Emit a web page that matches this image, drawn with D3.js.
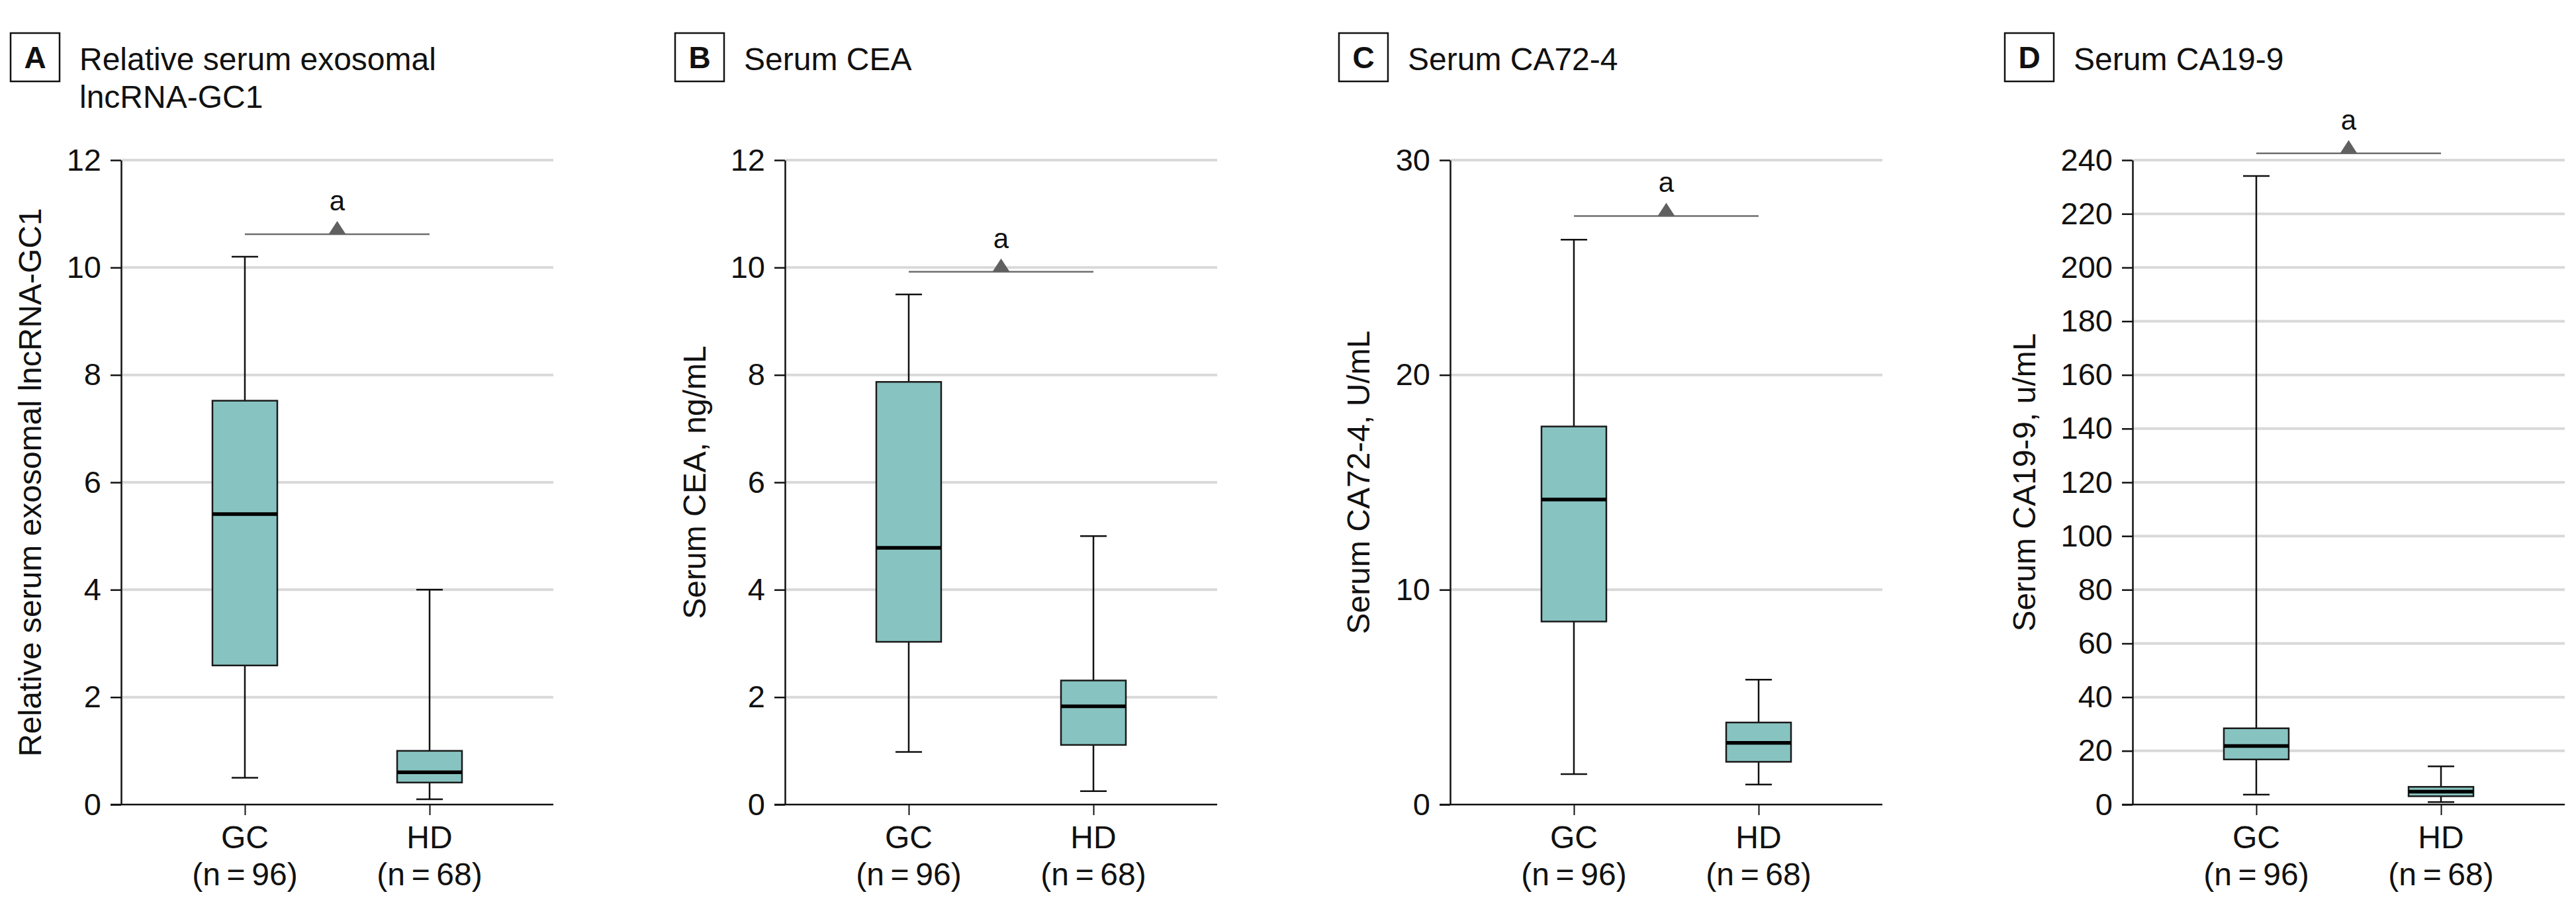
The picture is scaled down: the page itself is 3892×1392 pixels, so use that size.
<!DOCTYPE html>
<html>
<head>
<meta charset="utf-8">
<script src="https://cdn.jsdelivr.net/npm/d3@7"></script>
<style>
  html, body { margin: 0; padding: 0; background: #fff; }
  svg text { font-family: "Liberation Sans", Arial, sans-serif; fill: #111; }
</style>
</head>
<body>
<svg id="chart"></svg>
<script>
// groups on the x axis
const categories = ["GC", "HD"];
const groupSizes = [96, 68];

// one entry per panel
const panelLetters = ["A", "B", "C", "D"];
const panelTitles = [["Relative serum exosomal", "lncRNA-GC1"], ["Serum CEA"], ["Serum CA72-4"], ["Serum CA19-9"]];
const yTitles = ["Relative serum exosomal lncRNA-GC1", "Serum CEA, ng/mL", "Serum CA72-4, U/mL", "Serum CA19-9, u/mL"];
const yMax = [12, 12, 30, 240];
const yTickValues = [
    [0, 2, 4, 6, 8, 10, 12],
    [0, 2, 4, 6, 8, 10, 12],
    [0, 10, 20, 30],
    [0, 20, 40, 60, 80, 100, 120, 140, 160, 180, 200, 220, 240]
];

// box plot statistics, [GC, HD] per panel
const whiskerLow  = [[0.5, 0.1],  [0.98, 0.25], [1.42, 0.93], [3.7, 0.9]];
const q1          = [[2.59, 0.41], [3.03, 1.11], [8.52, 1.99], [16.8, 3.1]];
const median      = [[5.41, 0.6],  [4.78, 1.83], [14.2, 2.87], [21.8, 4.8]];
const q3          = [[7.52, 1.0],  [7.87, 2.31], [17.6, 3.82], [28.4, 6.6]];
const whiskerHigh = [[10.2, 4.0],  [9.5, 5.0],   [26.3, 5.81], [234.1, 14.2]];

// significance bracket height and its mark
const sigLevel = [10.62, 9.92, 27.4, 242.5];
const sigMark = "a";

// ---- layout ----
const WIDTH = 3892, HEIGHT = 1392;
const PANEL_LEFT = [16, 1020, 2023, 3029];
const AXIS_OFFSET = [167, 166, 168, 193];
const PLOT_W = 653;
const PLOT_TOP = 242, PLOT_BOTTOM = 1216;
const BOX_W = 98, CAP_W = 40;
const FILL = "#87c3c1";

const svg = d3.select("#chart").attr("width", WIDTH).attr("height", HEIGHT);

panelLetters.forEach((letter, p) => {
    const left = PANEL_LEFT[p];
    const axisX = left + AXIS_OFFSET[p];
    const g = svg.append("g");

    const y = d3.scaleLinear().domain([0, yMax[p]]).range([PLOT_BOTTOM, PLOT_TOP]);
    const x = d3.scalePoint().domain(categories).range([axisX, axisX + PLOT_W]).padding(0.67);

    // letter box + title
    g.append("rect")
        .attr("x", left).attr("y", 50).attr("width", 74).attr("height", 73)
        .attr("fill", "none").attr("stroke", "#111").attr("stroke-width", 2.5);
    g.append("text")
        .attr("x", left + 37).attr("y", 103)
        .attr("text-anchor", "middle")
        .attr("font-size", 46).attr("font-weight", "bold")
        .text(letter);
    const title = g.append("text")
        .attr("x", left + 104).attr("y", 106)
        .attr("font-size", 48);
    panelTitles[p].forEach((line, i) => {
        title.append("tspan").attr("x", left + 104).attr("dy", i === 0 ? 0 : 57).text(line);
    });

    // gridlines
    g.selectAll(".grid")
        .data(yTickValues[p].filter(v => v !== 0))
        .enter().append("line")
        .attr("x1", axisX + 1).attr("x2", axisX + PLOT_W)
        .attr("y1", d => y(d)).attr("y2", d => y(d))
        .attr("stroke", "#d9d9d9").attr("stroke-width", 4);

    // y axis
    const yAxis = d3.axisLeft(y)
        .tickValues(yTickValues[p])
        .tickSize(16).tickSizeOuter(0).tickPadding(14)
        .tickFormat(d3.format("d"));
    const ya = g.append("g").attr("transform", `translate(${axisX},0)`).call(yAxis);
    ya.select(".domain").attr("stroke", "#111").attr("stroke-width", 2.5);
    ya.selectAll(".tick line").attr("stroke", "#111").attr("stroke-width", 2.5);
    ya.selectAll(".tick text")
        .attr("font-size", 47)
        .attr("font-family", "'Liberation Sans', Arial, sans-serif")
        .attr("fill", "#111");

    // x axis baseline
    g.append("line")
        .attr("x1", axisX - 16).attr("x2", axisX + PLOT_W)
        .attr("y1", y(0)).attr("y2", y(0))
        .attr("stroke", "#111").attr("stroke-width", 2.5);
    const xAxis = d3.axisBottom(x).tickSize(16).tickSizeOuter(0).tickFormat("");
    const xa = g.append("g").attr("transform", `translate(0,${y(0)})`).call(xAxis);
    xa.select(".domain").remove();
    xa.selectAll(".tick line").attr("stroke", "#111").attr("stroke-width", 2);

    // category labels
    categories.forEach((c, i) => {
        const t = g.append("text")
            .attr("text-anchor", "middle")
            .attr("font-size", 48);
        t.append("tspan").attr("x", x(c)).attr("y", 1282).text(c);
        t.append("tspan").attr("x", x(c)).attr("y", 1338).text(`(n\u2009=\u2009${groupSizes[i]})`);
    });

    // y title
    g.append("text")
        .attr("transform", `translate(${left + 46},${(PLOT_TOP + PLOT_BOTTOM) / 2}) rotate(-90)`)
        .attr("text-anchor", "middle")
        .attr("font-size", 48)
        .text(yTitles[p]);

    // whiskers
    categories.forEach((c, i) => {
        const cx = x(c);
        const wg = g.append("g").attr("stroke", "#111").attr("stroke-width", 2.5);
        wg.append("line").attr("x1", cx).attr("x2", cx)
            .attr("y1", y(whiskerHigh[p][i])).attr("y2", y(q3[p][i]));
        wg.append("line").attr("x1", cx).attr("x2", cx)
            .attr("y1", y(q1[p][i])).attr("y2", y(whiskerLow[p][i]));
        wg.append("line").attr("x1", cx - CAP_W / 2).attr("x2", cx + CAP_W / 2)
            .attr("y1", y(whiskerHigh[p][i])).attr("y2", y(whiskerHigh[p][i]));
        wg.append("line").attr("x1", cx - CAP_W / 2).attr("x2", cx + CAP_W / 2)
            .attr("y1", y(whiskerLow[p][i])).attr("y2", y(whiskerLow[p][i]));

        g.append("rect")
            .attr("x", cx - BOX_W / 2).attr("width", BOX_W)
            .attr("y", y(q3[p][i])).attr("height", y(q1[p][i]) - y(q3[p][i]))
            .attr("fill", FILL).attr("stroke", "#1a1a1a").attr("stroke-width", 2.5);
        g.append("line")
            .attr("x1", cx - BOX_W / 2).attr("x2", cx + BOX_W / 2)
            .attr("y1", y(median[p][i])).attr("y2", y(median[p][i]))
            .attr("stroke", "#000").attr("stroke-width", 5.5);
    });

    // significance bracket
    const sy = y(sigLevel[p]);
    const x0 = x(categories[0]), x1 = x(categories[1]);
    const mid = (x0 + x1) / 2;
    g.append("line")
        .attr("x1", x0).attr("x2", x1).attr("y1", sy).attr("y2", sy)
        .attr("stroke", "#6e6e6e").attr("stroke-width", 2.5);
    g.append("path")
        .attr("d", `M${mid - 13},${sy}L${mid},${sy - 20}L${mid + 13},${sy}Z`)
        .attr("fill", "#606060");
    g.append("text")
        .attr("x", mid).attr("y", sy - 36)
        .attr("text-anchor", "middle")
        .attr("font-size", 42)
        .text(sigMark);
});
</script>
</body>
</html>
